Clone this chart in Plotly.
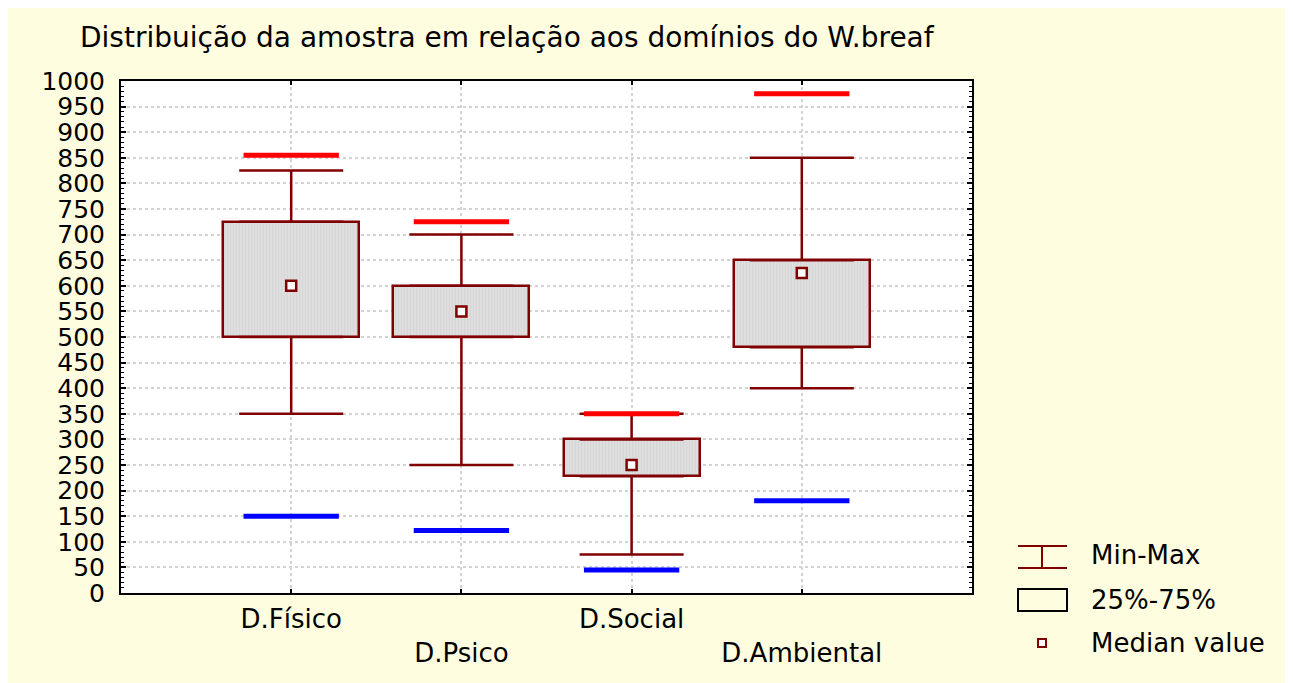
import plotly.graph_objects as go

# ---- data ----
categories = ["D.Físico", "D.Psico", "D.Social", "D.Ambiental"]
positions = [1, 2, 3, 4]
min_vals = [350, 250, 75, 400]
q1_vals = [500, 500, 228, 480]
median_vals = [600, 550, 250, 625]
q3_vals = [725, 600, 300, 650]
max_vals = [825, 700, 350, 850]
upper_ref = [855, 725, 350, 975]   # red lines
lower_ref = [150, 122, 45, 180]    # blue lines
y_ticks = list(range(0, 1001, 50))

DR = "#800000"
FONT = "DejaVu Sans"
OFF = 8  # page body offset
W, H = 1284, 675
L, R, T, B = 121 - OFF, 972 - OFF, 81 - OFF, 593 - OFF

def px_x(p):
    return (p - OFF - L) / (R - L)

def px_y(p):
    return (B - (p - OFF)) / (B - T)

fig = go.Figure()

# boxes (25%-75%)
fig.add_trace(go.Bar(
    x=positions,
    y=[q3 - q1 for q1, q3 in zip(q1_vals, q3_vals)],
    base=q1_vals,
    width=0.8,
    marker=dict(color="#DCDCDC", line=dict(color=DR, width=2.5),
                pattern=dict(shape="|", fgcolor="#CDCDCD", bgcolor="#DEDEDE", size=3, solidity=0.3)),
    showlegend=False, hoverinfo="skip",
))

# whiskers (upper)
fig.add_trace(go.Scatter(
    x=positions, y=q3_vals, mode="markers", marker=dict(size=1, opacity=0),
    error_y=dict(type="data", symmetric=False,
                 array=[mx - q3 for mx, q3 in zip(max_vals, q3_vals)],
                 arrayminus=[0] * len(positions),
                 width=52, thickness=2.5, color=DR),
    showlegend=False, hoverinfo="skip",
))
# whiskers (lower)
fig.add_trace(go.Scatter(
    x=positions, y=q1_vals, mode="markers", marker=dict(size=1, opacity=0),
    error_y=dict(type="data", symmetric=False,
                 array=[0] * len(positions),
                 arrayminus=[q1 - mn for mn, q1 in zip(min_vals, q1_vals)],
                 width=52, thickness=2.5, color=DR),
    showlegend=False, hoverinfo="skip",
))

def segs(vals, half=0.28):
    xs, ys = [], []
    for p, v in zip(positions, vals):
        xs += [p - half, p + half, None]
        ys += [v, v, None]
    return xs, ys

xr, yr = segs(upper_ref)
fig.add_trace(go.Scatter(x=xr, y=yr, mode="lines", line=dict(color="#FF0000", width=5),
                         showlegend=False, hoverinfo="skip"))
xb, yb = segs(lower_ref)
fig.add_trace(go.Scatter(x=xb, y=yb, mode="lines", line=dict(color="#0000FF", width=5),
                         showlegend=False, hoverinfo="skip"))

# medians
fig.add_trace(go.Scatter(
    x=positions, y=median_vals, mode="markers",
    marker=dict(symbol="square", size=10, color="white", line=dict(color=DR, width=2.5)),
    showlegend=False, hoverinfo="skip",
))

ticktext = [c if i % 2 == 0 else "<br>" + c for i, c in enumerate(categories)]

fig.update_layout(
    width=W, height=H,
    margin=dict(l=L, r=W - R, t=T, b=H - B),
    paper_bgcolor="#FFFDE0",
    plot_bgcolor="white",
    font=dict(family=FONT, size=26, color="black"),
    title=dict(text="Distribuição da amostra em relação aos domínios do W.breaf",
               font=dict(family=FONT, size=28, color="black"),
               xref="container", yref="container",
               x=(80 - OFF) / W, xanchor="left", y=1 - (37 - OFF) / H, yanchor="middle"),
    xaxis=dict(range=[0, 5], tickvals=positions, ticktext=ticktext,
               ticks="inside", ticklen=4, tickwidth=2, tickcolor="black",
               showline=True, linecolor="black", linewidth=2, mirror="ticks",
               showgrid=True, gridcolor="#D3D3D3", gridwidth=2, griddash="dot",
               zeroline=False, tickfont=dict(family=FONT, size=26),
               ticklabelstandoff=2),
    yaxis=dict(range=[0, 1000], tickvals=y_ticks,
               ticks="inside", ticklen=5, tickwidth=2, tickcolor="black",
               minor=dict(ticks="inside", dtick=10, ticklen=3, tickwidth=1, tickcolor="black", showgrid=False),
               showline=True, linecolor="black", linewidth=2, mirror="ticks",
               showgrid=True, gridcolor="#D3D3D3", gridwidth=2, griddash="dot",
               zeroline=False, tickfont=dict(family=FONT, size=25),
               ticklabelstandoff=9),
    bargap=0,
)

# custom legend
lx0, lx1, lxc = px_x(1018), px_x(1067), px_x(1042)
fig.add_shape(type="line", xref="paper", yref="paper", x0=lx0, x1=lx1, y0=px_y(546), y1=px_y(546),
              line=dict(color=DR, width=2))
fig.add_shape(type="line", xref="paper", yref="paper", x0=lx0, x1=lx1, y0=px_y(568), y1=px_y(568),
              line=dict(color=DR, width=2))
fig.add_shape(type="line", xref="paper", yref="paper", x0=lxc, x1=lxc, y0=px_y(546), y1=px_y(568),
              line=dict(color=DR, width=2))
fig.add_shape(type="rect", xref="paper", yref="paper", x0=lx0, x1=lx1, y0=px_y(611), y1=px_y(589),
              line=dict(color="black", width=2), fillcolor="rgba(0,0,0,0)")
fig.add_shape(type="rect", xref="paper", yref="paper", x0=px_x(1038), x1=px_x(1046),
              y0=px_y(647), y1=px_y(639),
              line=dict(color=DR, width=2), fillcolor="white")

legend_labels = ["Min-Max", "25%-75%", "Median value"]
legend_y = [555, 600, 643]
for lab, yy in zip(legend_labels, legend_y):
    fig.add_annotation(text=lab, xref="paper", yref="paper", x=px_x(1089), y=px_y(yy),
                       xanchor="left", yanchor="middle", showarrow=False,
                       font=dict(family=FONT, size=26, color="black"))

fig.write_html("out.html")
